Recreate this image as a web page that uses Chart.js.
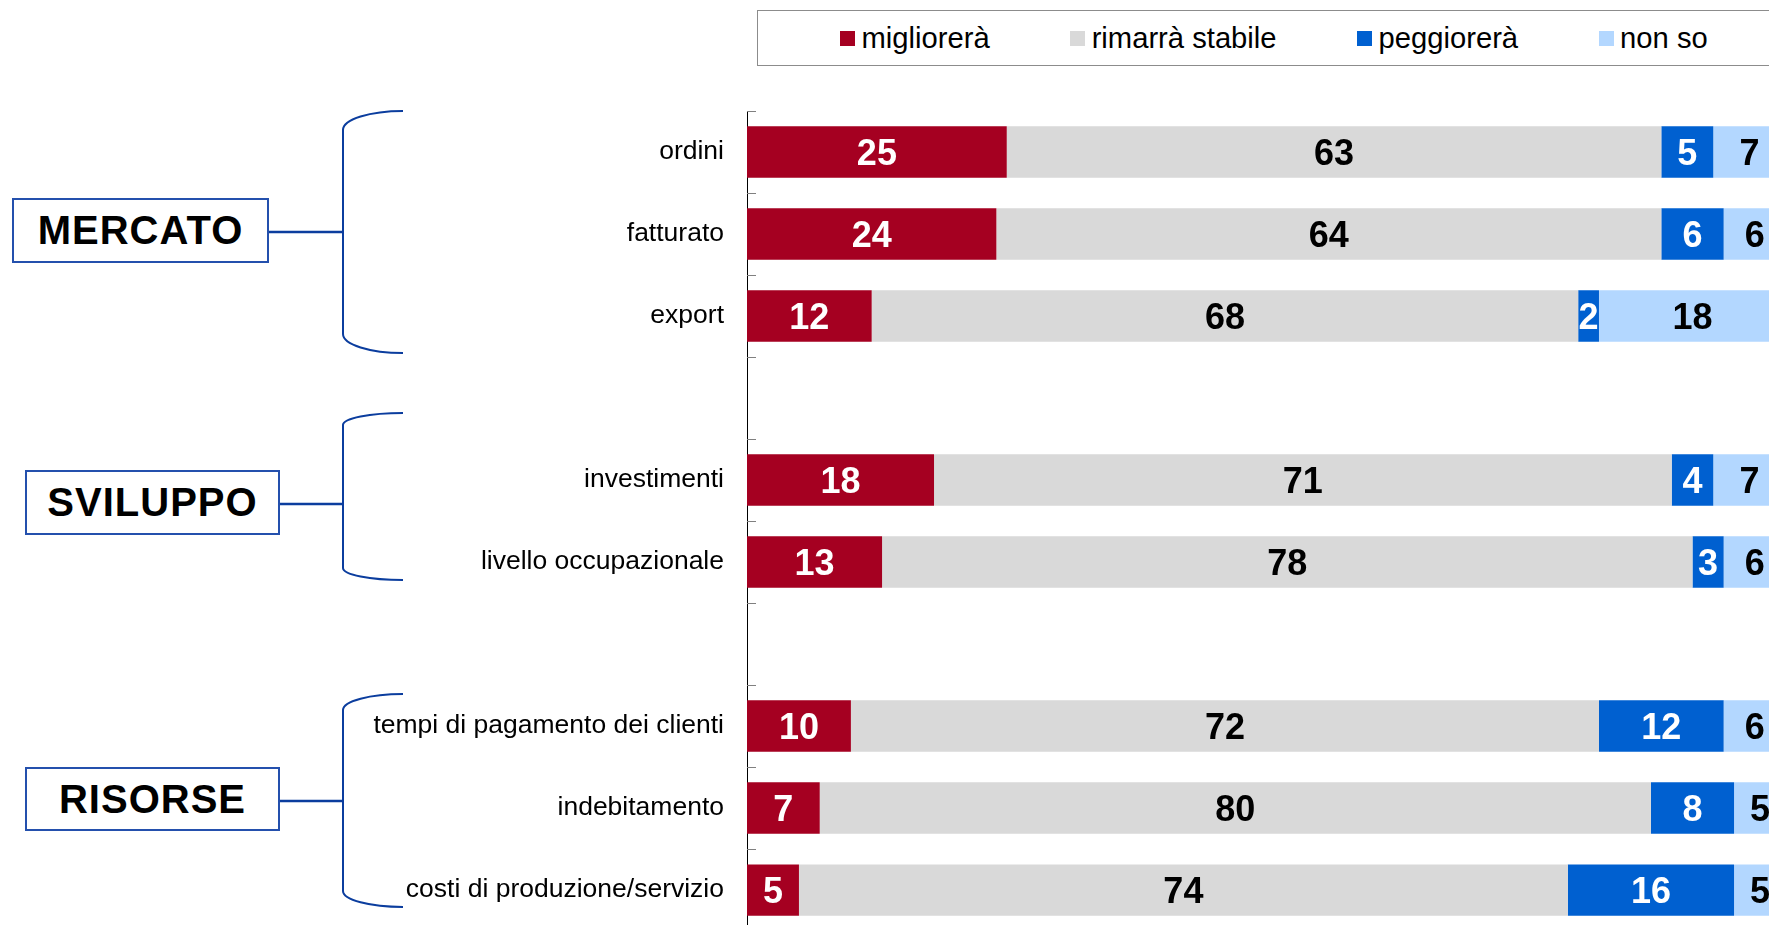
<!DOCTYPE html>
<html lang="it">
<head>
<meta charset="utf-8">
<title>Previsioni</title>
<script src="https://cdn.jsdelivr.net/npm/chart.js@4.4.0/dist/chart.umd.min.js"></script>
<style>
  html, body { margin: 0; padding: 0; width: 1769px; height: 925px; overflow: hidden; background: #fff; }
  body { position: relative; font-family: "Liberation Sans", Arial, sans-serif; color: #000; }
  #chartWrap { position: absolute; left: 0; top: 0; width: 1800px; height: 970px; }
  #legend {
    position: absolute; left: 757px; top: 10px; width: 1100px; height: 56px;
    border: 1.5px solid #8c8c8c; box-sizing: border-box;
    display: flex; align-items: center; padding-left: 82px; background: #fff;
  }
  .item { display: flex; align-items: center; margin-right: 80.5px; font-size: 29.2px; white-space: nowrap; }
  .item .box { width: 15px; height: 15px; margin-right: 6.5px; }
  .group {
    position: absolute; border: 2px solid #2450ad; box-sizing: border-box; background: #fff;
    font-weight: bold; font-size: 40px; letter-spacing: 1px;
    display: flex; align-items: center; justify-content: center;
  }
  #braces { position: absolute; left: 0; top: 0; }
</style>
</head>
<body>
<div id="legend"></div>
<svg id="braces" width="460" height="925"></svg>
<div class="group" style="left:12px;top:198px;width:257px;height:65px;">MERCATO</div>
<div class="group" style="left:25px;top:470px;width:255px;height:65px;">SVILUPPO</div>
<div class="group" style="left:25px;top:767px;width:255px;height:64px;">RISORSE</div>
<div id="chartWrap"><canvas id="chart" width="1800" height="970"></canvas></div>
<script>
const categories = [
  "ordini", "fatturato", "export", "",
  "investimenti", "livello occupazionale", "",
  "tempi di pagamento dei clienti", "indebitamento", "costi di produzione/servizio"
];
const seriesNames = ["migliorerà", "rimarrà stabile", "peggiorerà", "non so"];
const migliorera = [25, 24, 12, null, 18, 13, null, 10, 7, 5];
const stabile = [63, 64, 68, null, 71, 78, null, 72, 80, 74];
const peggiorera = [5, 6, 2, null, 4, 3, null, 12, 8, 16];
const nonSo = [7, 6, 18, null, 7, 6, null, 6, 5, 5];
const xTicks = [0, 100];

const colors = ["#a50021", "#d9d9d9", "#0060d0", "#b3d7ff"];
const labelColors = ["#fff", "#000", "#fff", "#000"];

// braces for the three groups: [top, bottom, curve height, connector y, connector start x]
const braces = [
  [111, 353, 19, 232, 269],
  [413, 580, 12, 504, 280],
  [694, 907, 16, 801, 280]
];
const braceX = 343, braceEnd = 403;
const svg = document.getElementById("braces");
svg.innerHTML = braces.map(([t, b, r, cy, cx]) => `
  <path d="M${braceEnd},${t} A${braceEnd - braceX},${r} 0 0 0 ${braceX},${t + r} L${braceX},${b - r} A${braceEnd - braceX},${r} 0 0 0 ${braceEnd},${b}"
        fill="none" stroke="#0b3d9e" stroke-width="2"/>
  <line x1="${cx}" y1="${cy}" x2="${braceX}" y2="${cy}" stroke="#0b3d9e" stroke-width="2.5"/>`).join("");

document.getElementById("legend").innerHTML = seriesNames
  .map((n, i) => `<div class="item"><span class="box" style="background:${colors[i]}"></span>${n}</div>`)
  .join("");

const innerTicks = {
  id: "innerTicks",
  afterDatasetsDraw(chart) {
    const y = chart.scales.y, ctx = chart.ctx, left = chart.chartArea.left;
    ctx.save();
    ctx.strokeStyle = "#808080";
    ctx.lineWidth = 1;
    for (let i = 0; i <= categories.length; i++) {
      const py = Math.round(y.getPixelForValue(i - 0.5)) + 0.5;
      ctx.beginPath();
      ctx.moveTo(left, py);
      ctx.lineTo(left + 9, py);
      ctx.stroke();
    }
    ctx.restore();
  }
};

const barLabels = {
  id: "barLabels",
  afterDatasetsDraw(chart) {
    const ctx = chart.ctx;
    ctx.save();
    ctx.font = "bold 36px 'Liberation Sans', Arial, sans-serif";
    ctx.textAlign = "center";
    ctx.textBaseline = "middle";
    chart.data.datasets.forEach((ds, di) => {
      chart.getDatasetMeta(di).data.forEach((bar, i) => {
        const v = ds.data[i];
        if (v == null) return;
        const { x, base, y } = bar.getProps(["x", "base", "y"], true);
        ctx.fillStyle = labelColors[di];
        ctx.fillText(v, (x + base) / 2, y + 3);
      });
    });
    ctx.restore();
  }
};

const series = [migliorera, stabile, peggiorera, nonSo];

new Chart(document.getElementById("chart"), {
  type: "bar",
  data: {
    labels: categories,
    datasets: series.map((d, i) => ({
      label: seriesNames[i],
      data: d,
      backgroundColor: colors[i],
      borderWidth: 0,
      categoryPercentage: 1,
      barPercentage: 0.627
    }))
  },
  options: {
    indexAxis: "y",
    responsive: false,
    animation: false,
    layout: { padding: { top: 111, bottom: 10, left: 0, right: 14 } },
    plugins: { legend: { display: false }, tooltip: { enabled: false } },
    scales: {
      x: { stacked: true, display: false, min: xTicks[0], max: xTicks[1] },
      y: {
        stacked: true,
        grid: { display: false, drawTicks: false },
        border: { display: true, color: "#000", width: 1 },
        ticks: {
          padding: 23,
          color: "#000",
          font: { family: "'Liberation Sans', Arial, sans-serif", size: 26.5 }
        },
        afterFit(scale) { scale.width = 747; }
      }
    }
  },
  plugins: [innerTicks, barLabels]
});
</script>
</body>
</html>
